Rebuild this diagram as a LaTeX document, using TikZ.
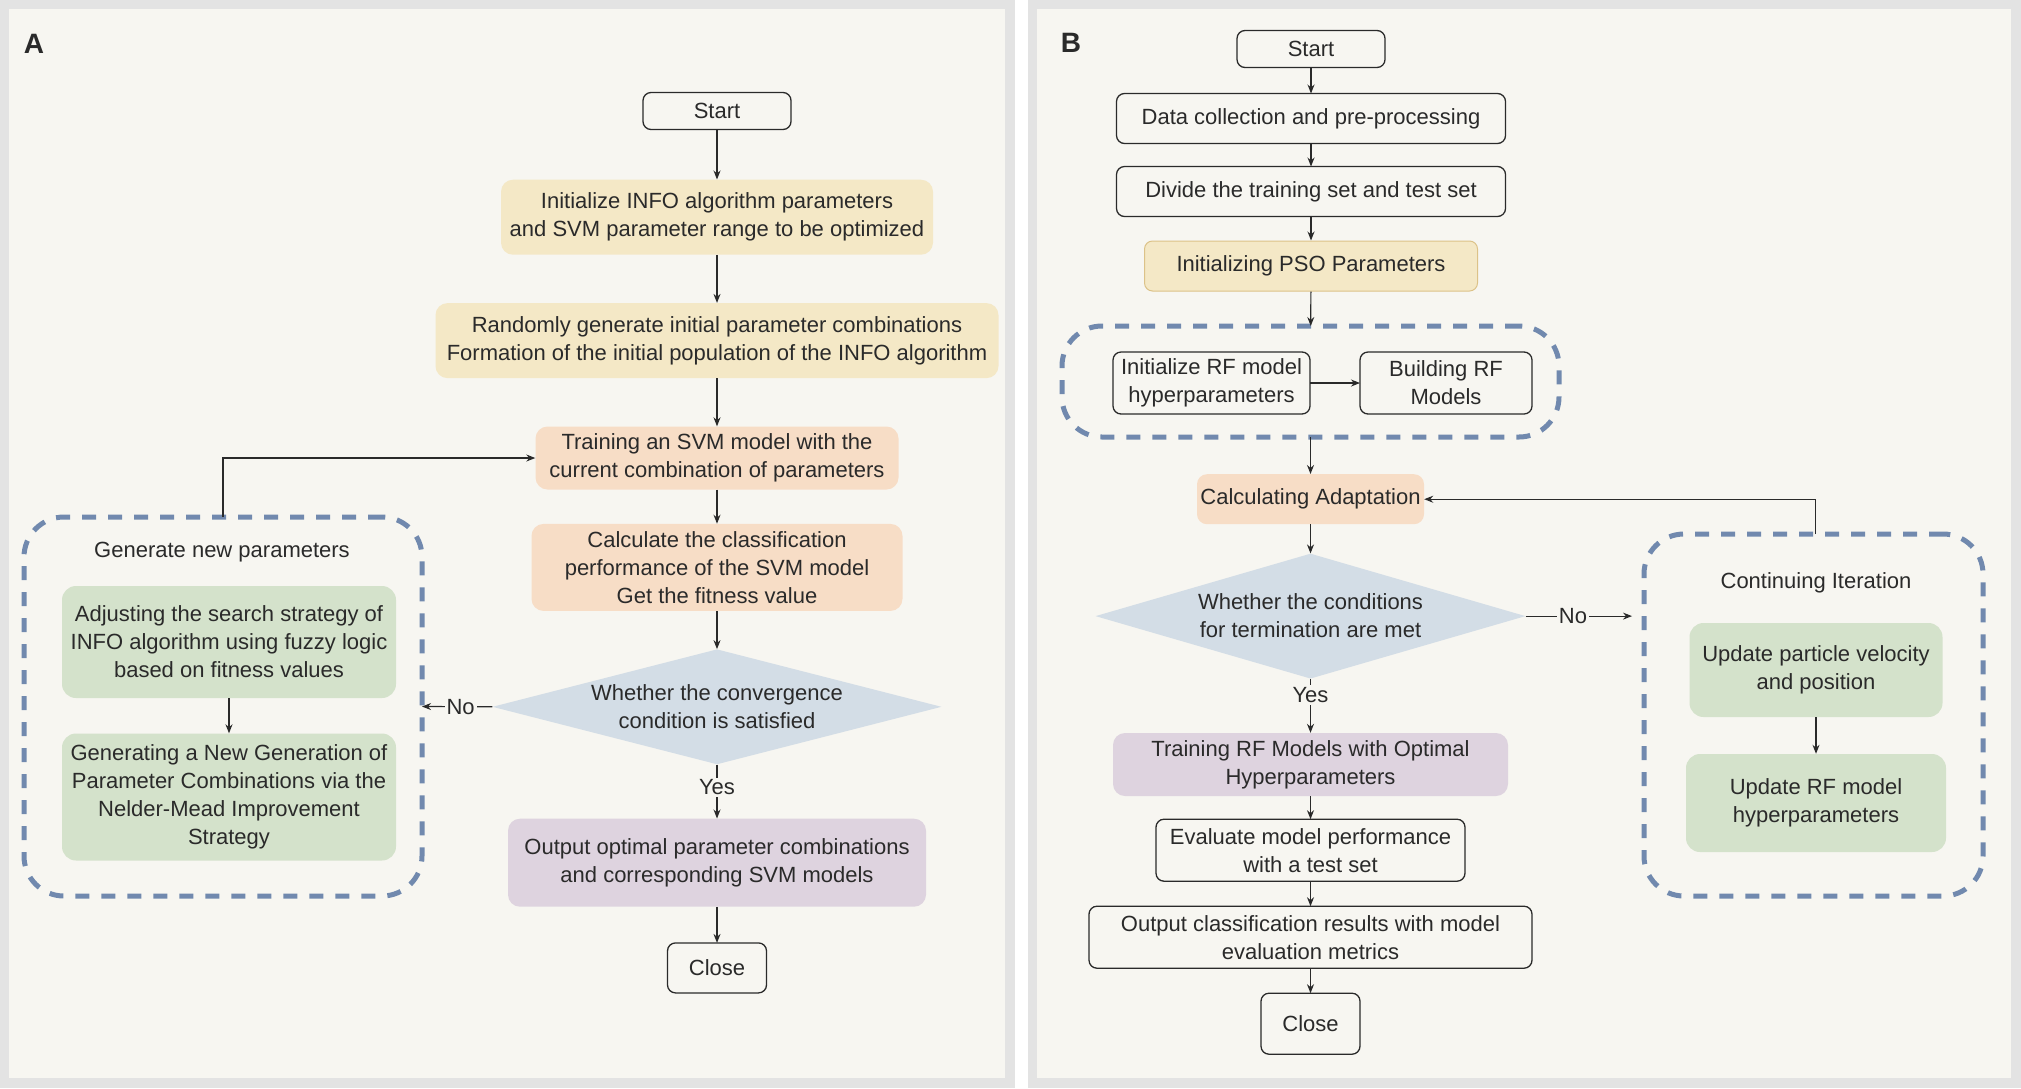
\documentclass[tikz,border=0pt]{standalone}
\usepackage{fontspec}
\setmainfont{Liberation Sans}
\usetikzlibrary{positioning,shapes.geometric,arrows.meta}
\definecolor{framegray}{HTML}{E3E3E3}
\definecolor{panelbg}{HTML}{F7F6F1}
\definecolor{linegray}{HTML}{2A2A2A}
\definecolor{softyellow}{HTML}{F4E8C6}
\definecolor{psoedge}{HTML}{DCC288}
\definecolor{softpeach}{HTML}{F7DDC6}
\definecolor{softpurple}{HTML}{DED3DF}
\definecolor{softgreen}{HTML}{D4E2CB}
\definecolor{softblue}{HTML}{D3DDE6}
\definecolor{dashblue}{HTML}{7189AE}
\tikzset{plain node/.style={draw=linegray,line width=1.3pt,rounded corners=8pt,fill=panelbg,align=center,inner sep=2pt,outer sep=0pt}}
\tikzset{yellow node/.style={fill=softyellow,rounded corners=12pt,align=center,inner sep=2pt}}
\tikzset{peach node/.style={fill=softpeach,rounded corners=12pt,align=center,inner sep=2pt}}
\tikzset{purple node/.style={fill=softpurple,rounded corners=12pt,align=center,inner sep=2pt}}
\tikzset{green node/.style={fill=softgreen,rounded corners=14pt,align=center,inner sep=2pt}}
\tikzset{test node/.style={diamond,fill=softblue,align=center,inner sep=0pt}}
\tikzset{loop box/.style={draw=dashblue,line width=5pt,dash pattern=on 14pt off 12pt,rounded corners=40pt,outer sep=0pt}}
\tikzset{flow/.style={draw=linegray,line width=1.2pt,-{Stealth[length=9pt,width=7pt]}}}
\tikzset{tag/.style={fill=panelbg,inner sep=2pt}}

\begin{document}
\begin{tikzpicture}[x=1pt,y=-1pt,font=\fontsize{22}{28}\selectfont,text=linegray]
        \useasboundingbox (0,0) rectangle (2021,1088);
        \fill[framegray] (0,0) rectangle (1015,1088);
        \fill[white] (1015,0) rectangle (1028,1088);
        \fill[framegray] (1028,0) rectangle (2021,1088);
        \fill[panelbg] (9,9) rectangle (1005,1078);
        \fill[panelbg] (1037,9) rectangle (2011,1078);

        % panel A
        \node[font=\fontsize{28}{30}\selectfont\bfseries] (labA) at (34,44) {A};
        \node[plain node, minimum width=148pt, minimum height=37pt] (startA) at (717,111) {Start};
        \node[yellow node, minimum width=432pt, minimum height=75pt] (initA) [below = 50pt of startA] {Initialize INFO algorithm parameters\\and SVM parameter range to be optimized};
        \node[yellow node, minimum width=563pt, minimum height=75pt] (randA) [below = 48pt of initA] {Randomly generate initial parameter combinations\\Formation of the initial population of the INFO algorithm};
        \node[peach node, minimum width=363pt, minimum height=63pt] (trainA) [below = 48pt of randA] {Training an SVM model with the\\current combination of parameters};
        \node[peach node, minimum width=371pt, minimum height=87pt] (calcA) [below = 34pt of trainA] {Calculate the classification\\performance of the SVM model\\Get the fitness value};
        \node[test node, aspect=3.9, minimum width=449pt, minimum height=115pt] (testA) [below = 38pt of calcA] {Whether the convergence\\condition is satisfied};
        \node[purple node, minimum width=418pt, minimum height=88pt] (outA) [below = 54pt of testA] {Output optimal parameter combinations\\and corresponding SVM models};
        \node[plain node, minimum width=99pt, minimum height=50pt] (closeA) [below = 36pt of outA] {Close};

        \node[loop box, minimum width=398pt, minimum height=379pt] (loopA) at (223,706.5) {};
        \node (genA) at (222,552) {Generate new parameters};
        \node[green node, minimum width=334pt, minimum height=112pt] (fuzzyA) at (229,642) {Adjusting the search strategy of\\INFO algorithm using fuzzy logic\\based on fitness values};
        \node[green node, minimum width=334pt, minimum height=127pt] (nmA) at (229,797) {Generating a New Generation of\\Parameter Combinations via the\\Nelder-Mead Improvement\\Strategy};

        \path[flow]
        (startA) edge (initA)
        (initA) edge (randA)
        (randA) edge (trainA)
        (trainA) edge (calcA)
        (calcA) edge (testA)
        (outA) edge (closeA)
        (fuzzyA) edge (nmA);
        \draw[flow] (testA.south) -- node[tag, pos=0.42] {Yes} (outA.north);
        \draw[flow] (testA.west) -- node[tag, pos=0.45] {No} (loopA.east);
        \draw[flow] (loopA.north) |- (trainA.west);

        % panel B
        \node[font=\fontsize{28}{30}\selectfont\bfseries] (labB) at (1071,43) {B};
        \node[plain node, minimum width=148pt, minimum height=37pt] (startB) at (1311,49) {Start};
        \node[plain node, minimum width=389pt, minimum height=50pt] (dataB) [below = 26pt of startB] {Data collection and pre-processing};
        \node[plain node, minimum width=389pt, minimum height=50pt] (splitB) [below = 23pt of dataB] {Divide the training set and test set};
        \node[yellow node, draw=psoedge, line width=1pt, rounded corners=8pt, minimum width=333pt, minimum height=50pt] (psoB) [below = 24pt of splitB] {Initializing PSO Parameters};

        \node[loop box, minimum width=497pt, minimum height=111pt] (rfB) at (1310.5,381.5) {};
        \node[plain node, minimum width=197pt, minimum height=62pt] (initrfB) at (1211.5,383) {Initialize RF model\\hyperparameters};
        \node[plain node, minimum width=172pt, minimum height=62pt] (buildB) at (1446,383) {Building RF\\Models};

        \node[peach node, rounded corners=10pt, minimum width=227pt, minimum height=50pt] (fitB) [below = 37pt of rfB] {Calculating Adaptation};
        \node[test node, aspect=3.44, minimum width=430pt, minimum height=125pt] (testB) [below = 29pt of fitB] {Whether the conditions\\for termination are met};
        \node[purple node, minimum width=395pt, minimum height=63pt] (trainB) [below = 54pt of testB] {Training RF Models with Optimal\\Hyperparameters};
        \node[plain node, minimum width=309pt, minimum height=62pt] (evalB) [below = 23pt of trainB] {Evaluate model performance\\with a test set};
        \node[plain node, minimum width=443pt, minimum height=62pt] (outB) [below = 25pt of evalB] {Output classification results with model\\evaluation metrics};
        \node[plain node, minimum width=99pt, minimum height=61pt] (closeB) [below = 25pt of outB] {Close};

        \node[loop box, minimum width=339pt, minimum height=362pt] (loopB) at (1813.5,715) {};
        \node (iterB) at (1816,583) {Continuing Iteration};
        \node[green node, minimum width=253pt, minimum height=94pt] (velB) at (1816,670) {Update particle velocity\\and position};
        \node[green node, minimum width=260pt, minimum height=98pt] (updB) at (1816,803) {Update RF model\\hyperparameters};

        \path[flow]
        (startB) edge (dataB)
        (dataB) edge (splitB)
        (splitB) edge (psoB)
        (psoB) edge (rfB)
        (initrfB) edge (buildB)
        (rfB) edge (fitB)
        (fitB) edge (testB)
        (trainB) edge (evalB)
        (evalB) edge (outB)
        (outB) edge (closeB)
        (velB) edge (updB);
        \draw[flow] (testB.south) -- node[tag, pos=0.3] {Yes} (trainB.north);
        \draw[flow, shorten >=12pt] (testB.east) -- node[tag, pos=0.4] {No} (testB.east -| loopB.west);
        \draw[flow] ([xshift=2pt]loopB.north) |- (fitB.east);
    \end{tikzpicture}
\end{document}
